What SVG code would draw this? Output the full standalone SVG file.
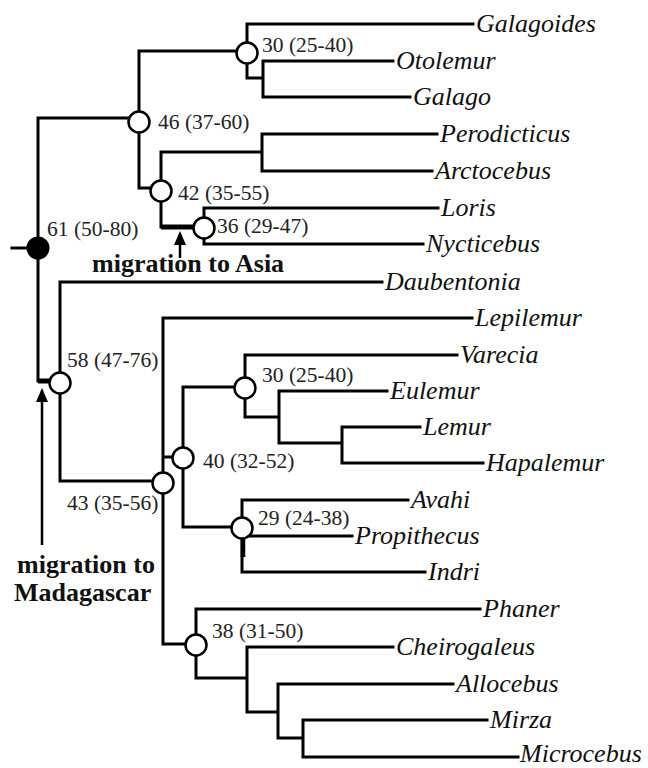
<svg xmlns="http://www.w3.org/2000/svg" width="648" height="768" viewBox="0 0 648 768">
<style>
.br{fill:none;stroke:#000;stroke-width:3;stroke-linecap:square}
.bold{fill:none;stroke:#000;stroke-width:5}
.nd{fill:#fff;stroke:#000;stroke-width:2.5}
.root{fill:#000;stroke:#000;stroke-width:2}
.sp{font-family:"Liberation Serif","Times New Roman",serif;font-style:italic;font-size:26px;fill:#111}
.age{font-family:"Liberation Serif","Times New Roman",serif;font-size:21.5px;fill:#222}
.mig{font-family:"Liberation Serif","Times New Roman",serif;font-weight:bold;font-size:26px;fill:#111}
.arr{fill:none;stroke:#000;stroke-width:2.5}
</style>
<defs>
<marker id="ah" viewBox="0 0 14 12" markerWidth="14" markerHeight="12" refX="11" refY="6" orient="auto" markerUnits="userSpaceOnUse">
<path d="M0,0 L14,6 L0,12 z" fill="#000"/>
</marker>
</defs>
<rect width="648" height="768" fill="#fff"/>
<g id="connectors">
<path class="br" d="M12,248 H38 M38,118 V381 M38,118 H139 M139,51 V188 M139,51 H247 M247,24 V78 M247,24 H473 M247,78 H263 M263,61 V97 M263,61 H393 M263,97 H410 M139,188 H161 M161,152 V227 M161,152 H262 M262,134 V171 M262,134 H437 M262,171 H432 M204,208 V244 M204,208 H438 M204,244 H423"/>
<path class="bold" d="M161,227 H204 M38,381 H50"/>
<path class="br" d="M60,282 V481 M60,282 H382 M60,481 H163 M163,318 V644 M163,318 H472 M163,457 H183 M183,387 V527 M183,387 H245 M245,355 V417 M245,355 H457 M245,417 H279 M279,391 V443 M279,391 H387 M279,443 H342 M342,427 V463 M342,427 H420 M342,463 H483 M183,527 H242 M242,500 V572 M242,500 H408 M242,536 H352 M242,572 H425 M163,644 H196 M196,609 V678 M196,609 H480 M196,678 H247 M247,647 V712 M247,647 H393 M247,712 H278 M278,684 V738 M278,684 H453 M278,738 H303 M303,720 V757 M303,720 H487 M303,757 H518"/>
<path d="M243,538 V557" stroke="#000" stroke-width="4.5" fill="none"/>
<path class="arr" d="M180,258 V234" marker-end="url(#ah)"/>
<path class="arr" d="M42,545 V391" marker-end="url(#ah)"/>
</g>
<g id="node-root"><circle class="root" cx="38" cy="248" r="10.5"/><text class="age" x="47" y="236">61 (50-80)</text></g>
<g id="node-46"><circle class="nd" cx="139" cy="122" r="10.5"/><text class="age" x="158" y="129">46 (37-60)</text></g>
<g id="node-30a"><circle class="nd" cx="247" cy="53" r="10.5"/><text class="age" x="262" y="52">30 (25-40)</text></g>
<g id="node-42"><circle class="nd" cx="161" cy="191" r="10.5"/><text class="age" x="178" y="200">42 (35-55)</text></g>
<g id="node-36"><circle class="nd" cx="204" cy="228" r="10.5"/><text class="age" x="217" y="233">36 (29-47)</text></g>
<g id="node-58"><circle class="nd" cx="60" cy="383" r="10.5"/><text class="age" x="67" y="367">58 (47-76)</text></g>
<g id="node-43"><circle class="nd" cx="163" cy="483" r="10.5"/><text class="age" x="67" y="510">43 (35-56)</text></g>
<g id="node-40"><circle class="nd" cx="183" cy="458" r="10.5"/><text class="age" x="203" y="468">40 (32-52)</text></g>
<g id="node-30b"><circle class="nd" cx="245" cy="388" r="10.5"/><text class="age" x="262" y="382">30 (25-40)</text></g>
<g id="node-29"><circle class="nd" cx="242" cy="528" r="10.5"/><text class="age" x="258" y="525">29 (24-38)</text></g>
<g id="node-38"><circle class="nd" cx="196" cy="645" r="10.5"/><text class="age" x="212" y="638">38 (31-50)</text></g>
<g id="leaf-Galagoides"><text class="sp" x="476" y="32">Galagoides</text></g>
<g id="leaf-Otolemur"><text class="sp" x="396" y="69">Otolemur</text></g>
<g id="leaf-Galago"><text class="sp" x="413" y="105">Galago</text></g>
<g id="leaf-Perodicticus"><text class="sp" x="440" y="142">Perodicticus</text></g>
<g id="leaf-Arctocebus"><text class="sp" x="435" y="179">Arctocebus</text></g>
<g id="leaf-Loris"><text class="sp" x="441" y="216">Loris</text></g>
<g id="leaf-Nycticebus"><text class="sp" x="426" y="252">Nycticebus</text></g>
<g id="leaf-Daubentonia"><text class="sp" x="385" y="290">Daubentonia</text></g>
<g id="leaf-Lepilemur"><text class="sp" x="475" y="326">Lepilemur</text></g>
<g id="leaf-Varecia"><text class="sp" x="460" y="363">Varecia</text></g>
<g id="leaf-Eulemur"><text class="sp" x="390" y="399">Eulemur</text></g>
<g id="leaf-Lemur"><text class="sp" x="423" y="435">Lemur</text></g>
<g id="leaf-Hapalemur"><text class="sp" x="486" y="471">Hapalemur</text></g>
<g id="leaf-Avahi"><text class="sp" x="411" y="508">Avahi</text></g>
<g id="leaf-Propithecus"><text class="sp" x="355" y="544">Propithecus</text></g>
<g id="leaf-Indri"><text class="sp" x="428" y="580">Indri</text></g>
<g id="leaf-Phaner"><text class="sp" x="483" y="617">Phaner</text></g>
<g id="leaf-Cheirogaleus"><text class="sp" x="396" y="655">Cheirogaleus</text></g>
<g id="leaf-Allocebus"><text class="sp" x="456" y="692">Allocebus</text></g>
<g id="leaf-Mirza"><text class="sp" x="490" y="728">Mirza</text></g>
<g id="leaf-Microcebus"><text class="sp" x="520" y="762">Microcebus</text></g>
<g id="label-asia"><text class="mig" x="92" y="272">migration to Asia</text></g>
<g id="label-madagascar"><text class="mig" x="17" y="573">migration to</text><text class="mig" x="14" y="601">Madagascar</text></g>
</svg>
